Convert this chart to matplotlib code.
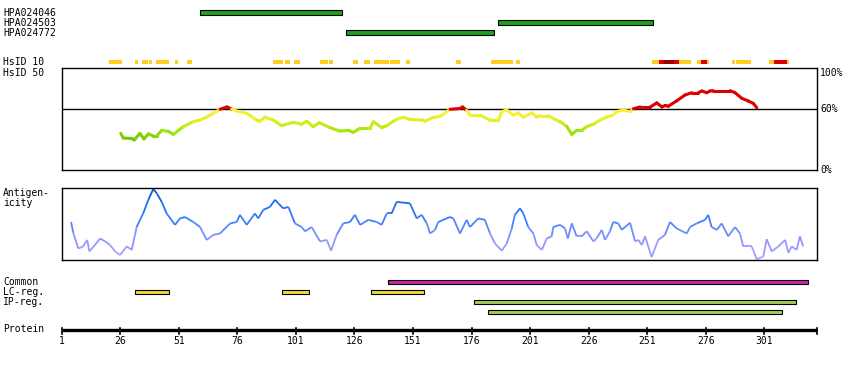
import matplotlib
matplotlib.use("Agg")
import matplotlib.pyplot as plt
import numpy as np
from matplotlib.collections import LineCollection

# --- data (residue positions) ---
protein_end = 323.4
tick_residues = [1, 26, 51, 76, 101, 126, 151, 176, 201, 226, 251, 276, 301]

antibodies = ["HPA024046", "HPA024503", "HPA024772"]
antibody_spans = [(60, 120.6), (187.4, 253.3), (122.6, 185.4)]

common_spans = [(140.5, 319.5)]
lc_spans = [(32.3, 46.7), (95.2, 106.5), (133.2, 155.6)]
ip_spans = [(177.2, 314.4), (183.2, 308.4)]

# HsID 10 blocks: (start, end, level) level 0 = yellow, 1 = red, 2 = dark red
hsid_blocks = [
    (21.2, 26.8, 0), (32.2, 33.6, 0), (35.3, 38.0, 0), (38.3, 39.7, 0),
    (41.4, 46.8, 0), (49.4, 50.7, 0), (54.4, 56.5, 0), (91.2, 95.5, 0),
    (96.3, 98.3, 0), (100.1, 102.7, 0), (111.3, 114.7, 0), (115.1, 116.8, 0),
    (125.3, 127.5, 0), (130.0, 132.6, 0), (134.3, 140.7, 0), (141.2, 145.4, 0),
    (148.0, 149.7, 0), (169.4, 171.5, 0), (184.3, 193.7, 0), (195.0, 196.7, 0),
    (253.1, 256.0, 0), (256.0, 258.2, 1), (258.2, 262.4, 2), (262.4, 264.6, 1),
    (264.6, 269.7, 0), (272.3, 274.0, 0), (274.0, 276.6, 1), (276.6, 277.4, 0),
    (287.2, 288.5, 0), (288.9, 294.0, 0), (294.0, 295.3, 0), (303.0, 305.2, 0),
    (305.2, 310.7, 1), (310.7, 311.4, 0),
]

# HsID 50 identity curve (%)
id_res = [26.2, 27.3, 30.9, 32.0, 34.4, 36.1, 38.0, 40.1, 41.6, 43.7, 46.5, 48.7,
          52.9, 57.2, 60.0, 62.9, 66.5, 68.6, 71.5, 73.6, 75.7, 80.0, 84.3, 85.7,
          87.8, 91.4, 94.9, 99.9, 103.5, 105.6, 108.4, 111.0, 115.6, 119.8, 123.4,
          125.5, 128.4, 132.6, 134.1, 137.6, 139.8, 144.0, 146.9, 149.7, 155.4,
          156.1, 159.7, 162.5, 165.4, 166.8, 171.0, 172.2, 173.9, 175.3, 179.6,
          183.9, 187.4, 188.9, 191.0, 193.8, 196.0, 198.1, 201.7, 203.8, 205.2,
          208.8, 211.6, 213.8, 216.6, 218.8, 220.9, 223.0, 225.2, 228.0, 230.8,
          233.7, 236.5, 238.0, 240.8, 243.7, 245.1, 248.0, 252.3, 255.1, 257.3,
          258.7, 260.0, 263.6, 267.1, 270.0, 272.8, 274.3, 276.4, 277.8, 279.2,
          286.4, 288.5, 291.4, 294.2, 296.3, 297.8]
id_val = [36, 31.5, 31, 29.5, 36, 30.5, 35.5, 33.5, 33.5, 39, 38, 35,
          42.6, 47.5, 49, 52, 56.7, 59.7, 62, 60, 58, 55.7, 49, 48,
          52, 49, 43.6, 46.9, 45, 48, 42.6, 46.5, 41.6, 38.3, 39,
          37, 41, 41, 47.5, 41.6, 43.6, 50, 51.8, 49.8, 49,
          48, 51.8, 52.5, 57.4, 59.7, 60.5, 62, 58.5, 54, 54,
          49, 48.5, 57.4, 59, 54, 56, 52, 56, 52, 53.5,
          53.5, 49.8, 47.5, 43, 35, 39, 39, 42.6, 45, 49,
          52, 54, 57.4, 59, 57.4, 60.2, 62, 62, 66, 62,
          63.5, 62.7, 68, 73.7, 76, 76, 77.7, 76, 77.7, 78,
          78, 76, 70.5, 67.8, 65.5, 61.3]

# Antigenicity (relative, 0..1)
ag_res = [5.0, 6.0, 8.1, 10.2, 11.9, 12.8, 15.2, 17.4, 19.5, 21.6, 23.8, 25.9,
          28.8, 30.9, 33.0, 35.8, 38.0, 40.1, 41.6, 43.7, 45.8, 49.4, 51.5, 53.6,
          57.2, 60.1, 62.9, 65.7, 68.6, 72.9, 75.7, 77.1, 80.0, 83.5, 84.9, 87.1,
          89.9, 92.1, 93.5, 95.6, 97.8, 100.6, 103.5, 104.9, 107.7, 111.3, 114.2,
          116.0, 118.4, 121.2, 124.1, 126.2, 128.4, 131.9, 135.5, 137.6, 139.8,
          141.9, 144.0, 149.7, 152.6, 154.7, 156.9, 158.3, 160.4, 161.8, 166.8,
          168.2, 171.1, 173.9, 175.3, 178.9, 181.7, 183.9, 186.0, 188.9, 191.0,
          193.1, 194.5, 196.7, 198.1, 200.2, 202.4, 203.8, 206.0, 208.1, 210.2,
          210.9, 213.8, 215.9, 217.1, 218.8, 220.9, 223.0, 225.2, 228.0, 229.4,
          231.6, 233.0, 235.1, 236.5, 238.7, 240.1, 243.7, 245.8, 247.2, 248.7,
          250.1, 252.9, 255.7, 258.6, 260.7, 263.6, 267.9, 269.3, 272.1, 275.7,
          277.1, 278.5, 280.7, 282.8, 285.6, 288.5, 290.6, 292.0, 295.6, 297.8,
          300.6, 302.0, 304.2, 307.0, 309.9, 311.3, 312.7, 314.8, 316.2, 317.6]
ag_val = [.53, .37, .16, .19, .28, .12, .21, .30, .26, .21, .12, .07,
          .19, .14, .46, .65, .84, .99, .93, .81, .65, .49, .58, .60,
          .53, .46, .28, .35, .37, .51, .53, .63, .49, .65, .58, .70,
          .74, .84, .79, .72, .74, .51, .46, .40, .46, .26, .28,
          .13, .35, .51, .53, .63, .49, .56, .53, .49, .65,
          .65, .81, .79, .58, .63, .51, .37, .42, .53, .60,
          .58, .37, .56, .46, .58, .56, .37, .23, .13, .23,
          .43, .63, .72, .65, .46, .37, .21, .14, .30, .33,
          .46, .49, .44, .30, .51, .33, .33, .40, .26, .30,
          .42, .28, .40, .53, .51, .42, .52, .26, .28, .21,
          .33, .04, .28, .35, .53, .44, .37, .46, .51, .56,
          .63, .46, .42, .51, .33, .46, .37, .19, .19, .01,
          .05, .29, .12, .19, .28, .10, .19, .14, .33, .19]

# --- layout (pixels) ---
W, H = 850, 370
LEFT, RIGHT = 61.7, 817.3
PX = 2.342  # pixels per residue
FONT = dict(family="DejaVu Sans Mono", fontsize=7)


def res_x(px):
    return 1 + (px - LEFT) / PX


fig = plt.figure(figsize=(W / 100, H / 100), dpi=100)
ax = fig.add_axes([0, 0, 1, 1])
ax.set_xlim(res_x(0), res_x(W))
ax.set_ylim(H, 0)
ax.axis("off")

label_x = res_x(3)


def bars(spans, y, color, h=4.3, edge=True):
    for s, e in spans:
        ax.add_patch(plt.Rectangle((s, y - h / 2), e - s, h, facecolor=color,
                                   edgecolor="black" if edge else "none",
                                   linewidth=0.8 if edge else 0))


# antibodies
for i, (name, span) in enumerate(zip(antibodies, antibody_spans)):
    y = 12.5 + 10 * i
    ax.text(label_x, y, name, va="center", ha="left", **FONT)
    bars([span], y, "#20a020")

# HsID 10 row
ax.text(label_x, 62.3, "HsID 10", va="center", ha="left", **FONT)
ax.text(label_x, 72.5, "HsID 50", va="center", ha="left", **FONT)
hs_colors = ["#ffcc22", "#dd0000", "#990000"]
for s, e, lev in hsid_blocks:
    ax.add_patch(plt.Rectangle((s, 60.2), e - s, 4.2, facecolor=hs_colors[lev],
                               edgecolor="none"))

# identity panel
ax_id = fig.add_axes([LEFT / W, 1 - 170 / H, (RIGHT - LEFT) / W, (170 - 68.3) / H])
ax_id.set_xlim(1, res_x(RIGHT))
ax_id.set_ylim(0, 100)
ax_id.set_xticks([])
ax_id.set_yticks([])
for sp in ax_id.spines.values():
    sp.set_linewidth(1.0)
ax_id.axhline(60, color="black", linewidth=1.0, zorder=1)

stops = [28, 38, 48, 56, 60]
stop_rgb = np.array([[0.38, 0.72, 0.0], [0.62, 0.90, 0.05], [0.85, 0.95, 0.12],
                     [0.98, 0.94, 0.22], [1.0, 0.93, 0.25]])


def id_color(v):
    if v >= 60:
        return (0.87, 0.0, 0.0)
    return tuple(np.interp(v, stops, stop_rgb[:, k]) for k in range(3))


pts = np.column_stack([id_res, id_val])
segs = np.stack([pts[:-1], pts[1:]], axis=1)
cols = [id_color(max(a, b) if min(a, b) >= 59.5 else (a + b) / 2)
        for a, b in zip(id_val[:-1], id_val[1:])]
ax_id.add_collection(LineCollection(segs, colors=cols, linewidths=2.2,
                                    capstyle="round", zorder=2))
ax_id.text(1.004, 1.0, "100%", transform=ax_id.transAxes, va="top", ha="left", **FONT)
ax_id.text(1.004, 0.6, "60%", transform=ax_id.transAxes, va="center", ha="left", **FONT)
ax_id.text(1.004, 0.0, "0%", transform=ax_id.transAxes, va="center", ha="left", **FONT)

# antigenicity panel
ax.text(label_x, 193.3, "Antigen-", va="center", ha="left", **FONT)
ax.text(label_x, 203.3, "icity", va="center", ha="left", **FONT)
ax_ag = fig.add_axes([LEFT / W, 1 - 260 / H, (RIGHT - LEFT) / W, (260 - 188.3) / H])
ax_ag.set_xlim(1, res_x(RIGHT))
ax_ag.set_ylim(0, 1)
ax_ag.set_xticks([])
ax_ag.set_yticks([])
for sp in ax_ag.spines.values():
    sp.set_linewidth(1.0)

ag_stops = [0.0, 0.3, 0.55, 0.8, 1.0]
ag_rgb = np.array([[0.72, 0.64, 1.0], [0.55, 0.58, 1.0], [0.25, 0.50, 1.0],
                   [0.10, 0.42, 0.95], [0.0, 0.32, 0.80]])
pts = np.column_stack([ag_res, ag_val])
segs = np.stack([pts[:-1], pts[1:]], axis=1)
cols = [tuple(np.interp((a + b) / 2, ag_stops, ag_rgb[:, k]) for k in range(3))
        for a, b in zip(ag_val[:-1], ag_val[1:])]
ax_ag.add_collection(LineCollection(segs, colors=cols, linewidths=1.3))

# region tracks
ax.text(label_x, 282.3, "Common", va="center", ha="left", **FONT)
ax.text(label_x, 292.3, "LC-reg.", va="center", ha="left", **FONT)
ax.text(label_x, 302.3, "IP-reg.", va="center", ha="left", **FONT)
bars(common_spans, 282.3, "#cc22aa")
bars(lc_spans, 292.3, "#f0dc40")
bars([ip_spans[0]], 302.3, "#a8cc58")
bars([ip_spans[1]], 312.3, "#a8cc58")

# protein axis
ax.text(label_x, 329.5, "Protein", va="center", ha="left", **FONT)
ax.plot([1, protein_end], [330, 330], color="black", linewidth=2.4,
        solid_capstyle="butt")
for t in tick_residues + [protein_end]:
    ax.plot([t, t], [328, 334], color="black", linewidth=1.2)
for t in tick_residues:
    ax.text(t, 341.5, str(t), va="center", ha="center", **FONT)

fig.savefig("out.png", dpi=100)
